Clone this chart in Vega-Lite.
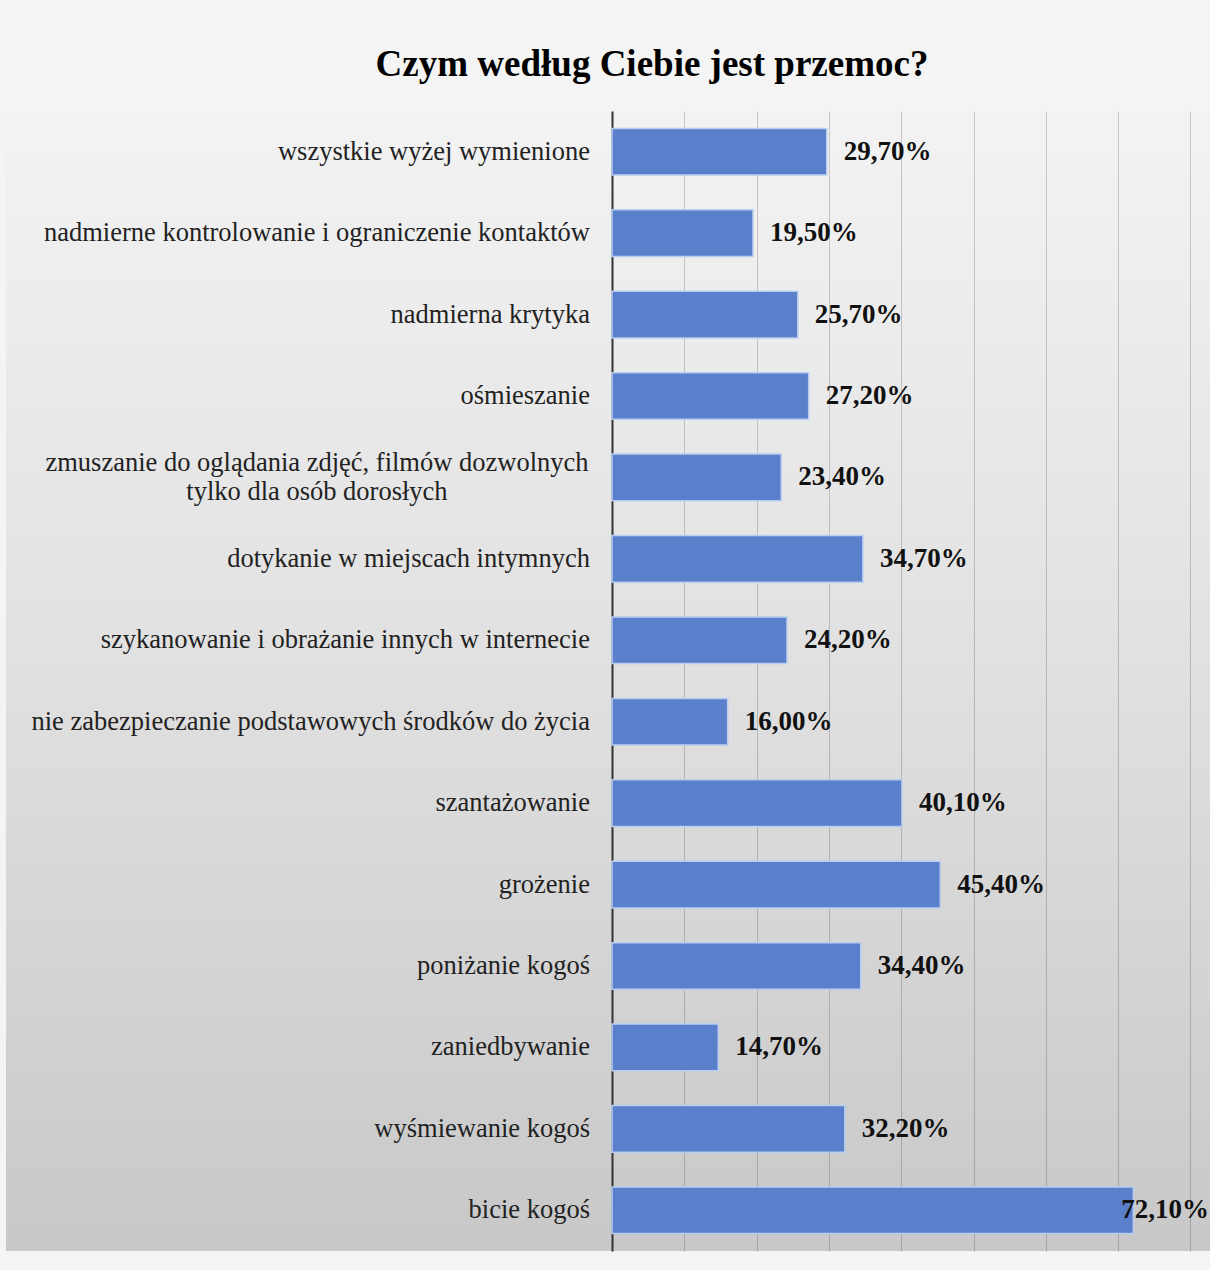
{
  "$schema": "https://vega.github.io/schema/vega-lite/v6.json",
  "autosize": {"type": "fit", "contains": "padding"},
  "width": 1210,
  "height": 1270,
  "padding": {"left": 6, "top": 46, "right": 0, "bottom": 19},
  "background": "#f4f4f4",
  "title": {
    "text": "Czym według Ciebie jest przemoc?",
    "font": "Liberation Serif",
    "fontSize": 37,
    "fontWeight": "bold",
    "color": "#000000",
    "anchor": "middle",
    "dx": 44,
    "offset": 27
  },
  "config": {
    "locale": {"number": {"decimal": ",", "thousands": " ", "grouping": [3], "currency": ["", " zł"]}},
    "view": {
      "stroke": null,
      "fill": {
        "gradient": "linear",
        "x1": 0, "y1": 0, "x2": 0, "y2": 1,
        "stops": [
          {"offset": 0, "color": "#f3f3f3"},
          {"offset": 0.5, "color": "#e0e0e0"},
          {"offset": 1, "color": "#c8c8c8"}
        ]
      }
    }
  },
  "data": {
    "values": [
      {"cat": "wszystkie wyżej wymienione", "v": 0.297},
      {"cat": "nadmierne kontrolowanie i ograniczenie kontaktów", "v": 0.195},
      {"cat": "nadmierna krytyka", "v": 0.257},
      {"cat": "ośmieszanie", "v": 0.272},
      {"cat": "zmuszanie do oglądania zdjęć, filmów dozwolnych\ntylko dla osób dorosłych", "v": 0.234},
      {"cat": "dotykanie w miejscach intymnych", "v": 0.347},
      {"cat": "szykanowanie i obrażanie innych w internecie", "v": 0.242},
      {"cat": "nie zabezpieczanie podstawowych środków do życia", "v": 0.16},
      {"cat": "szantażowanie", "v": 0.401},
      {"cat": "grożenie", "v": 0.454},
      {"cat": "poniżanie kogoś", "v": 0.344},
      {"cat": "zaniedbywanie", "v": 0.147},
      {"cat": "wyśmiewanie kogoś", "v": 0.322},
      {"cat": "bicie kogoś", "v": 0.721}
    ]
  },
  "encoding": {
    "y": {
      "field": "cat",
      "type": "nominal",
      "sort": null,
      "axis": null,
      "scale": {"paddingInner": 0.427, "paddingOuter": 0.2135}
    }
  },
  "layer": [
    {
      "mark": {"type": "bar", "color": "#5a80cb", "stroke": "#b9cdf0", "strokeWidth": 1.5},
      "encoding": {
        "x": {
          "field": "v",
          "type": "quantitative",
          "scale": {"domain": [-0.838, 0.827], "nice": false, "zero": false},
          "axis": {
            "values": [0, 0.1, 0.2, 0.3, 0.4, 0.5, 0.6, 0.7, 0.8],
            "grid": true,
            "gridColor": {"condition": {"test": "datum.value === 0", "value": "#333333"}, "value": "#000000"},
            "gridOpacity": {"condition": {"test": "datum.value === 0", "value": 1}, "value": 0.18},
            "gridWidth": {"condition": {"test": "datum.value === 0", "value": 2}, "value": 1},
            "labels": false,
            "ticks": false,
            "domain": false,
            "title": null
          }
        },
        "x2": {"datum": 0}
      }
    },
    {
      "transform": [{"filter": "datum.v < 0.6"}],
      "mark": {"type": "text", "align": "left", "baseline": "middle", "dx": 17, "font": "Liberation Serif", "fontSize": 27, "fontWeight": "bold", "color": "#111111"},
      "encoding": {
        "x": {"field": "v", "type": "quantitative"},
        "text": {"field": "v", "type": "quantitative", "format": ".2%"}
      }
    },
    {
      "transform": [{"filter": "datum.v >= 0.6"}],
      "mark": {"type": "text", "align": "left", "baseline": "middle", "dx": -12, "font": "Liberation Serif", "fontSize": 27, "fontWeight": "bold", "color": "#111111"},
      "encoding": {
        "x": {"field": "v", "type": "quantitative"},
        "text": {"field": "v", "type": "quantitative", "format": ".2%"}
      }
    },
    {
      "transform": [{"filter": "indexof(datum.cat, '\\n') < 0"}],
      "mark": {"type": "text", "align": "right", "baseline": "middle", "dx": -22, "font": "Liberation Serif", "fontSize": 26.5, "color": "#222222"},
      "encoding": {
        "x": {"datum": 0},
        "text": {"field": "cat"}
      }
    },
    {
      "transform": [{"filter": "indexof(datum.cat, '\\n') >= 0"}],
      "mark": {"type": "text", "align": "center", "baseline": "middle", "dx": -295, "dy": -14, "lineBreak": "\n", "lineHeight": 29, "font": "Liberation Serif", "fontSize": 26.5, "color": "#222222"},
      "encoding": {
        "x": {"datum": 0},
        "text": {"field": "cat"}
      }
    }
  ]
}
